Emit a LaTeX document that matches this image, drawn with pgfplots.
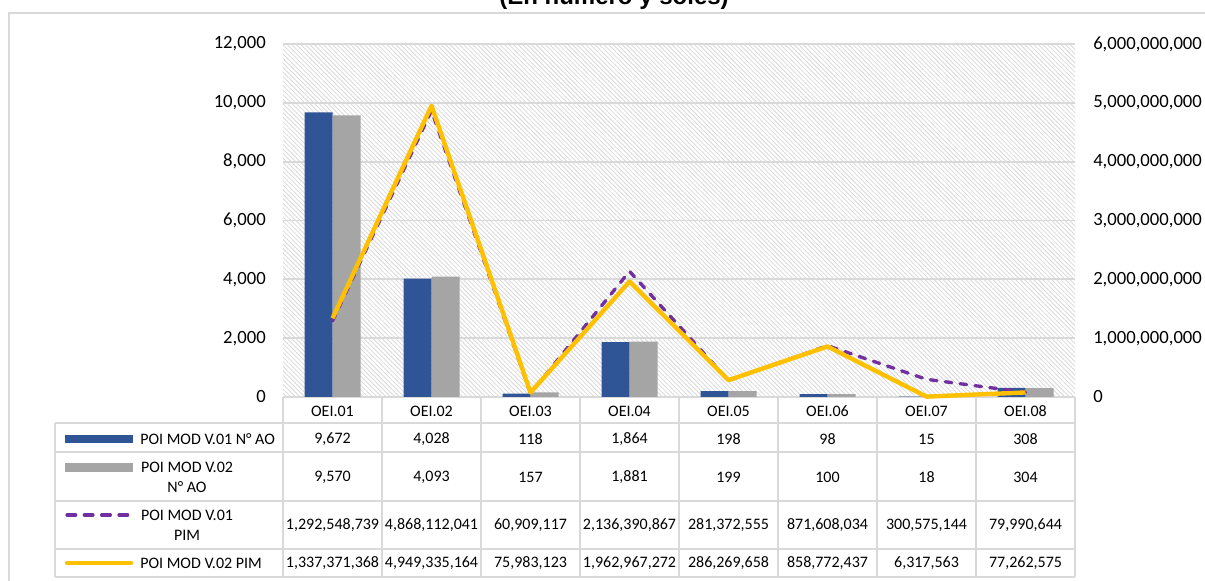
\documentclass[border=0pt]{standalone}
\usepackage{pgfplots}
\pgfplotsset{compat=1.18}
\usepackage{fontspec}
\setmainfont{Carlito}
\newfontfamily\titlefont{Liberation Sans}
\usetikzlibrary{patterns.meta}
\definecolor{barblue}{HTML}{2F5597}
\definecolor{bargray}{HTML}{A5A5A5}
\definecolor{linepurple}{HTML}{7030A0}
\definecolor{lineyellow}{HTML}{FFC000}
\definecolor{gridgray}{HTML}{D9D9D9}
\definecolor{hatchgray}{HTML}{D8D8D8}
\pgfplotsset{
  /pgf/number format/assume math mode=true,
  common/.style={
    at={(212.25pt,138pt)}, anchor=south west,
    scale only axis, width=594pt, height=264.75pt,
    xmin=0.5, xmax=8.5, xtick=\empty,
    axis line style={draw=none},
    tick style={draw=none},
    tick label style={font=\fontsize{14}{16}\selectfont},
    scaled y ticks=false,
    /pgf/number format/fixed,
    /pgf/number format/precision=0,
    /pgf/number format/1000 sep={,},
    clip=false,
  }
}
\begin{document}
\begin{tikzpicture}[x=0.75pt,y=0.75pt,font=\fontsize{12}{15}\selectfont]
\path[use as bounding box] (0,0) rectangle (1205,581);
\clip (0,0) rectangle (1205,581);
% outer frame
\draw[gridgray, line width=1.1pt] (9,-10) -- (9,568) -- (1215,568);
% title (cut at the top)
\node[font=\titlefont\bfseries\fontsize{18}{20}\selectfont, anchor=base] at (614,576) {(En número y soles)};

\begin{axis}[common,
  ymin=0, ymax=12000,
  ytick={0,2000,4000,6000,8000,10000,12000},
  ymajorgrids,
  major grid style={gridgray, line width=1.3pt},
  yticklabel style={anchor=east, inner sep=0pt, xshift=-12.75pt},
  axis background/.style={pattern={Lines[angle=-45,distance=2.4pt,line width=0.6pt]}, pattern color=hatchgray},
]
\addplot[ybar, bar width=21pt, bar shift=-10.5pt, fill=barblue, draw=none]
  coordinates {(1,9672) (2,4028) (3,118) (4,1864) (5,198) (6,98) (7,15) (8,308)};
\addplot[ybar, bar width=21pt, bar shift=10.5pt, fill=bargray, draw=none]
  coordinates {(1,9570) (2,4093) (3,157) (4,1881) (5,199) (6,100) (7,18) (8,304)};
\end{axis}

\begin{axis}[common,
  ymin=0, ymax=6000000000,
  ytick={0,1e9,2e9,3e9,4e9,5e9,6e9},
  yticklabel pos=right,
  yticklabel style={anchor=west, inner sep=0pt, xshift=13.5pt},
]
\addplot[linepurple, line width=2.5pt, line cap=round, line join=round, dash pattern=on 5pt off 6.25pt, mark=none]
  coordinates {(1,1292548739) (2,4868112041) (3,60909117) (4,2136390867) (5,281372555) (6,871608034) (7,300575144) (8,79990644)};
\addplot[lineyellow, line width=3.3pt, line join=round, mark=none]
  coordinates {(1,1337371368) (2,4949335164) (3,75983123) (4,1962967272) (5,286269658) (6,858772437) (7,6317563) (8,77262575)};
\end{axis}

% data table grid
\begin{scope}[gridgray, line width=1.5pt]
\foreach \yy in {158,129,80,32,4} \draw (55,\yy) -- (1075,\yy);
\draw (55,158) -- (55,4);
\foreach \xx in {283,382,481,580,679,778,877,976,1075} \draw (\xx,184) -- (\xx,4);
\end{scope}

% header
\foreach \n [count=\i from 0] in {OEI.01,OEI.02,OEI.03,OEI.04,OEI.05,OEI.06,OEI.07,OEI.08}
  \node at (332.5+99*\i,170) {\n};

% legend keys and row labels
\fill[barblue] (65,138) rectangle (133,146);
\node[anchor=west, inner sep=0pt] at (140,142) {POI MOD V.01 N° AO};
\fill[bargray] (65,109) rectangle (133,118);
\node[align=center, inner sep=0pt, font=\fontsize{12}{15}\selectfont] at (187,104) {POI MOD V.02\\N° AO};
\draw[linepurple, line width=2.5pt, line cap=round, dash pattern=on 6.5pt off 6.5pt] (67,66) -- (131,66);
\node[align=center, inner sep=0pt, font=\fontsize{12}{15}\selectfont] at (187,56) {POI MOD V.01\\PIM};
\draw[lineyellow, line width=3.3pt, line cap=round] (67,18) -- (131,18);
\node[anchor=west, inner sep=0pt] at (140,18) {POI MOD V.02 PIM};

% values
\foreach \v [count=\i from 0] in {{9,672},{4,028},{118},{1,864},{198},{98},{15},{308}}
  \node at (332.5+99*\i,142) {\v};
\foreach \v [count=\i from 0] in {{9,570},{4,093},{157},{1,881},{199},{100},{18},{304}}
  \node at (332.5+99*\i,104) {\v};
\foreach \v [count=\i from 0] in {{1,292,548,739},{4,868,112,041},{60,909,117},{2,136,390,867},{281,372,555},{871,608,034},{300,575,144},{79,990,644}}
  \node at (332.5+99*\i,56) {\v};
\foreach \v [count=\i from 0] in {{1,337,371,368},{4,949,335,164},{75,983,123},{1,962,967,272},{286,269,658},{858,772,437},{6,317,563},{77,262,575}}
  \node at (332.5+99*\i,18) {\v};
\end{tikzpicture}
\end{document}
